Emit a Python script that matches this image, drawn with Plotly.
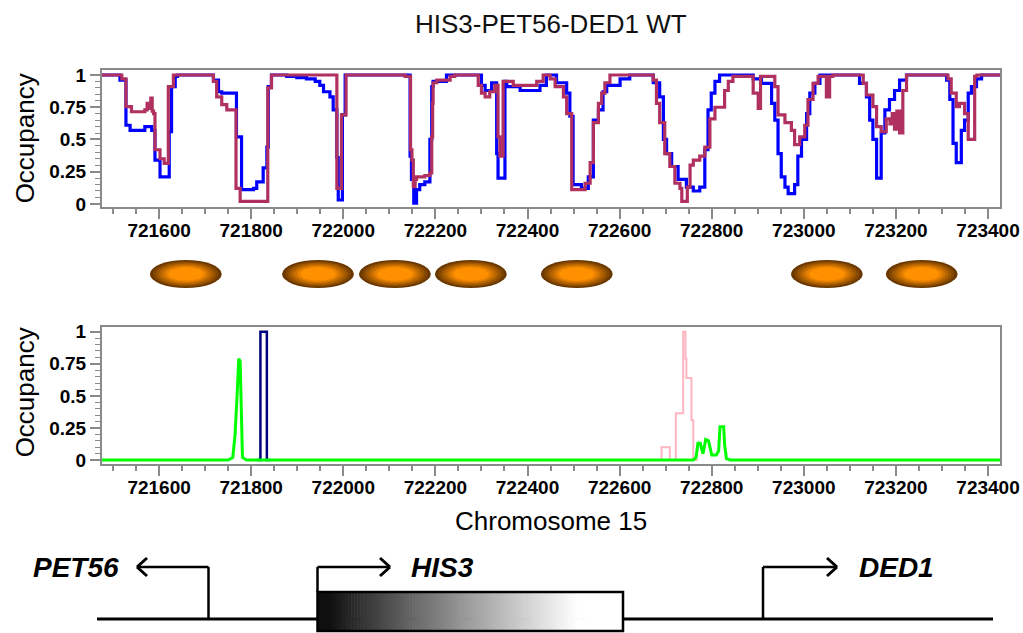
import plotly.graph_objects as go

# ---------------- data ----------------
# Top panel: occupancy profiles (step values starting at each position)
blue_x = [721476, 721515, 721528, 721537, 721569, 721584, 721591, 721602, 721622, 721627, 721635, 721640,
          721718, 721729, 721736, 721768, 721779, 721805, 721812, 721826, 721834, 721837, 721844, 721877,
          721899, 721920, 721939, 721949, 721957, 721971, 721978, 721986, 721989, 721998, 722004,
          722145, 722148, 722153, 722159, 722166, 722177, 722188, 722192, 722195, 722224, 722300, 722308,
          722322, 722333, 722336, 722351, 722355, 722384, 722427, 722441, 722463, 722485, 722492, 722499,
          722517, 722532, 722543, 722554, 722564, 722572, 722601, 722622, 722673, 722687, 722695, 722702,
          722713, 722727, 722745, 722760, 722774, 722785, 722792, 722799, 722807, 722817, 722890, 722908,
          722930, 722937, 722944, 722951, 722959, 722966, 722980, 722987, 722995, 723006, 723013, 723024,
          723035, 723121, 723136, 723143, 723150, 723158, 723168, 723176, 723186, 723197, 723208, 723223,
          723310, 723317, 723324, 723331, 723342, 723349, 723357, 723364, 723375, 723386, 723426]
blue_y = [1.0, 0.96, 0.61, 0.57, 0.60, 0.57, 0.34, 0.21, 0.56, 0.91, 0.99, 1.0,
          0.96, 0.87, 0.86, 0.52, 0.11, 0.12, 0.17, 0.28, 0.44, 0.91, 1.0, 0.99,
          0.98, 0.97, 0.95, 0.92, 0.87, 0.83, 0.73, 0.36, 0.03, 0.69, 1.0,
          0.37, 0.19, 0.005, 0.11, 0.15, 0.17, 0.50, 0.91, 0.95, 1.0, 0.92, 0.88,
          0.94, 0.39, 0.20, 0.95, 0.91, 0.88, 0.92, 1.0, 0.94, 0.86, 0.68, 0.15,
          0.12, 0.21, 0.65, 0.73, 0.87, 0.92, 0.97, 1.0, 0.94, 0.83, 0.50, 0.39,
          0.29, 0.19, 0.13, 0.10, 0.13, 0.42, 0.73, 0.86, 0.95, 1.0, 0.97, 0.935,
          0.78, 0.65, 0.39, 0.21, 0.13, 0.08, 0.15, 0.37, 0.50, 0.70, 0.86, 0.935,
          1.0, 0.935, 0.83, 0.65, 0.50, 0.20, 0.55, 0.73, 0.81, 0.88, 0.96, 1.0,
          0.96, 0.81, 0.47, 0.32, 0.57, 0.65, 0.86, 0.91, 0.97, 1.0, 1.0]

red_x = [721476, 721519, 721528, 721540, 721569, 721574, 721579, 721582, 721585, 721588, 721591, 721602,
         721611, 721620, 721631, 721718, 721725, 721736, 721747, 721767, 721776, 721836, 721844, 721986,
         721996, 722006, 722134, 722146, 722149, 722152, 722156, 722159, 722177, 722188, 722192, 722194,
         722195, 722203, 722232, 722242, 722293, 722300, 722308, 722318, 722329, 722336, 722340, 722347,
         722369, 722420, 722434, 722449, 722460, 722478, 722485, 722496, 722525, 722536, 722543, 722554,
         722561, 722568, 722579, 722673, 722680, 722687, 722698, 722709, 722720, 722731, 722735, 722747,
         722753, 722760, 722774, 722785, 722796, 722807, 722828, 722836, 722846, 722890, 722901, 722906,
         722937, 722944, 722959, 722973, 722980, 722991, 723002, 723009, 723020, 723031, 723049, 723056,
         723063, 723129, 723136, 723150, 723158, 723168, 723179, 723187, 723192, 723197, 723202, 723208,
         723215, 723223, 723313, 723320, 723331, 723338, 723349, 723357, 723371, 723376, 723426]
red_y = [1.0, 0.97, 0.755, 0.715, 0.73, 0.78, 0.74, 0.82, 0.72, 0.70, 0.42, 0.35,
         0.315, 0.91, 1.0, 0.95, 0.83, 0.77, 0.73, 0.12, 0.02, 0.90, 1.0, 0.12,
         0.69, 1.0, 0.99, 0.42, 0.34, 0.134, 0.19, 0.21, 0.22, 0.24, 0.52, 0.78,
         0.94, 0.96, 0.99, 1.0, 0.92, 0.86, 0.83, 0.87, 0.92, 0.52, 0.37, 0.95,
         0.92, 0.95, 1.0, 0.97, 0.91, 0.83, 0.70, 0.11, 0.16, 0.32, 0.63, 0.78,
         0.86, 0.94, 1.0, 0.96, 0.78, 0.63, 0.39, 0.29, 0.16, 0.12, 0.02, 0.13,
         0.30, 0.34, 0.37, 0.44, 0.66, 0.75, 0.88, 0.95, 0.99, 0.86, 0.74, 0.99,
         0.91, 0.69, 0.63, 0.57, 0.46, 0.52, 0.61, 0.81, 0.935, 0.99, 0.83, 0.99,
         1.0, 0.935, 0.845, 0.755, 0.60, 0.56, 0.66, 0.62, 0.70, 0.58, 0.72, 0.55,
         0.88, 1.0, 0.97, 0.86, 0.755, 0.78, 0.70, 0.50, 0.99, 1.0, 1.0]

# Nucleosome positions (centres, bp)
nuc_centers = [721658, 721945, 722112, 722277, 722507, 723050, 723256]
nuc_width = 156

# Bottom panel
green_x = [721476, 721750, 721760, 721765, 721770, 721773, 721776, 721778, 721781, 721790,
           722760, 722766, 722770, 722775, 722781, 722787, 722793, 722800, 722810, 722815,
           722818, 722826, 722828, 722832, 722840, 723426]
green_y = [0, 0, 0.02, 0.2, 0.55, 0.79, 0.77, 0.5, 0.02, 0,
           0, 0.02, 0.13, 0.13, 0.05, 0.16, 0.15, 0.04, 0.04, 0.07,
           0.26, 0.26, 0.12, 0.01, 0, 0]

pink_x = [722680, 722691, 722709, 722722, 722738, 722743, 722745, 722756, 722760, 722770]
pink_y = [0, 0.10, 0, 0.365, 1.0, 0.79, 0.64, 0.31, 0, 0]

navy_x = [721812, 721820, 721820, 721834, 721834, 721842]
navy_y = [0, 0, 1.0, 1.0, 0, 0]

x_ticks = [721600, 721800, 722000, 722200, 722400, 722600, 722800, 723000, 723200, 723400]
y_ticks = [0, 0.25, 0.5, 0.75, 1]
y_ticktext = ["0", "0.25", "0.5", "0.75", "1"]

genes = ["PET56", "HIS3", "DED1"]

# ---------------- figure ----------------
W, H = 1023, 633
def PX(x):
    return x / W
def PY(y):
    return 1 - y / H

FONT = "Liberation Sans, Arial, sans-serif"
XRANGE = [721476, 723426]
GRAY = "#8a8a8a"

fig = go.Figure()
fig.add_trace(go.Scatter(x=blue_x, y=blue_y, mode="lines", line=dict(color="#0000FF", width=3.2, shape="hv"),
                         xaxis="x", yaxis="y", showlegend=False, hoverinfo="skip"))
fig.add_trace(go.Scatter(x=red_x, y=red_y, mode="lines", line=dict(color="#B03060", width=3.2, shape="hv"),
                         xaxis="x", yaxis="y", showlegend=False, hoverinfo="skip"))
fig.add_trace(go.Scatter(x=pink_x, y=pink_y, mode="lines", line=dict(color="#FFB6C1", width=2, shape="hv"),
                         xaxis="x2", yaxis="y2", showlegend=False, hoverinfo="skip"))
fig.add_trace(go.Scatter(x=navy_x, y=navy_y, mode="lines", line=dict(color="#000080", width=2.5),
                         xaxis="x2", yaxis="y2", showlegend=False, hoverinfo="skip"))
fig.add_trace(go.Scatter(x=green_x, y=green_y, mode="lines", line=dict(color="#00FF00", width=3),
                         xaxis="x2", yaxis="y2", showlegend=False, hoverinfo="skip"))

def xaxis_cfg(dom_y_anchor):
    return dict(domain=[PX(102), PX(1000)], range=XRANGE, anchor=dom_y_anchor, automargin=False,
                showline=True, linecolor=GRAY, linewidth=2, mirror=True,
                ticks="outside", tickcolor=GRAY, ticklen=10, tickwidth=1.5, ticklabelstandoff=-5,
                tickmode="array", tickvals=x_ticks, ticktext=[str(v) for v in x_ticks],
                minor=dict(ticks="outside", ticklen=5, tickcolor=GRAY, tickwidth=1.5,
                           tickmode="linear", tick0=721600, dtick=50, showgrid=False),
                showgrid=False, zeroline=False,
                tickfont=dict(family=FONT, size=19, color="black", weight="bold"))

def yaxis_cfg(dom, anchor):
    return dict(domain=dom, anchor=anchor, automargin=False,
                showline=True, linecolor=GRAY, linewidth=2, mirror=True,
                ticks="outside", tickcolor=GRAY, ticklen=10, tickwidth=1.5,
                tickmode="array", tickvals=y_ticks, ticktext=y_ticktext,
                minor=dict(ticks="outside", ticklen=5, tickcolor=GRAY, tickwidth=1.2,
                           tickmode="linear", tick0=0, dtick=0.05, showgrid=False),
                showgrid=False, zeroline=False,
                tickfont=dict(family=FONT, size=19, color="black", weight="bold"))

top_dom = [PY(206.7), PY(70)]
bot_dom = [PY(464), PY(326.7)]
fig.update_layout(
    template="none",
    width=W, height=H, margin=dict(l=0, r=0, t=0, b=0, pad=0, autoexpand=False),
    paper_bgcolor="white", plot_bgcolor="white",
    xaxis=xaxis_cfg("y"),
    yaxis=dict(yaxis_cfg(top_dom, "x"), range=[-0.022, 1.039]),
    xaxis2=xaxis_cfg("y2"),
    yaxis2=dict(yaxis_cfg(bot_dom, "x2"), range=[-0.031, 1.039]),
)

def note(text, x, y, size, **kw):
    font = dict(family=FONT, size=size, color="black")
    font.update(kw.pop("font", {}))
    d = dict(text=text, x=PX(x), y=PY(y), xref="paper", yref="paper", showarrow=False,
             xanchor="center", yanchor="middle", font=font)
    d.update(kw)
    return d

ann = [note("HIS3-PET56-DED1 WT", 551, 24, 26, font=dict(color="#111"))]
for cy in [(70 + 206.7) / 2, (326.7 + 464) / 2 - 3]:
    ann.append(note("Occupancy", 25, cy, 26, textangle=-90))
ann.append(note("Chromosome 15", 551, 521, 26))
for name, cx in zip(genes, [76, 442, 896]):
    ann.append(note(name, cx, 567, 28, font=dict(weight="bold", style="italic")))
fig.update_layout(annotations=ann)

shapes = []
# nucleosome ellipses (layered to mimic radial gradient)
dark = (105, 55, 0)
orange = (255, 144, 0)
n_layers = 10
for c in nuc_centers:
    for i in range(n_layers):
        s = 1 - i / n_layers * 0.85
        t = min(1.0, (1 - s) / 0.5)
        col = tuple(int(dark[k] + (orange[k] - dark[k]) * t) for k in range(3))
        hw = nuc_width / 2 * s
        hh = 14 * s
        shapes.append(dict(type="circle", xref="x", yref="paper",
                           x0=c - hw, x1=c + hw, y0=PY(274 + hh), y1=PY(274 - hh),
                           fillcolor="rgb(%d,%d,%d)" % col, line=dict(width=0), layer="above"))

def seg(x0, y0, x1, y1, w=3):
    shapes.append(dict(type="line", xref="paper", yref="paper", x0=PX(x0), y0=PY(y0), x1=PX(x1), y1=PY(y1),
                       line=dict(color="black", width=w)))

# baseline
seg(97, 619, 993, 619, 3)
# gradient box
bx0, bx1, by0, by1 = 317.5, 623, 592, 631
n = 100
for i in range(n):
    x0 = bx0 + (bx1 - bx0) * i / n
    x1 = bx0 + (bx1 - bx0) * (i + 1) / n + 0.6
    t = (i + 0.5) / n
    g = int(255 * min(1.0, (t / 0.85)) ** 0.9)
    g = max(15, g)
    shapes.append(dict(type="rect", xref="paper", yref="paper", x0=PX(x0), x1=PX(min(x1, bx1)),
                       y0=PY(by1), y1=PY(by0), fillcolor="rgb(%d,%d,%d)" % (g, g, g), line=dict(width=0)))
shapes.append(dict(type="rect", xref="paper", yref="paper", x0=PX(bx0), x1=PX(bx1), y0=PY(by1), y1=PY(by0),
                   line=dict(color="black", width=2.5), fillcolor="rgba(0,0,0,0)"))
# arrows
seg(208.5, 619, 208.5, 567, 2.5)
seg(208.5, 567, 137, 567, 2.5)
seg(137, 567, 147, 558, 3)
seg(137, 567, 147, 576, 3)
seg(317.5, 592, 317.5, 567, 2.5)
seg(317.5, 567, 390, 567, 2.5)
seg(390, 567, 380, 558, 3)
seg(390, 567, 380, 576, 3)
seg(763, 619, 763, 567, 2.5)
seg(763, 567, 837, 567, 2.5)
seg(837, 567, 827, 558, 3)
seg(837, 567, 827, 576, 3)

fig.update_layout(shapes=shapes)
fig.write_html("out.html")
